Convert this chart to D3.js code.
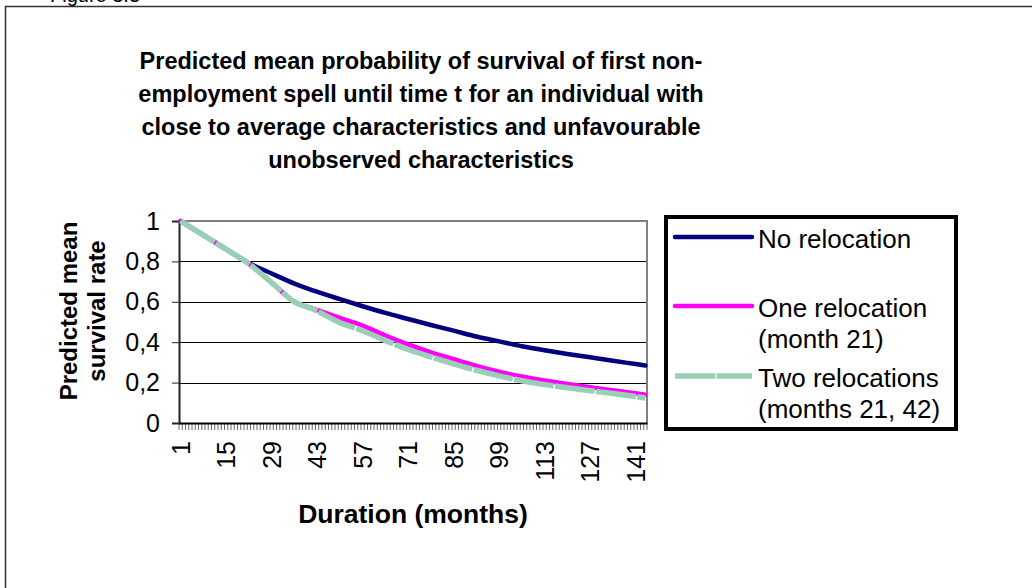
<!DOCTYPE html>
<html>
<head>
<meta charset="utf-8">
<script src="https://cdn.jsdelivr.net/npm/d3@7"></script>
<style>
  body { margin: 0; background: #fff; }
  svg { display: block; font-family: "Liberation Sans", Arial, sans-serif; }
</style>
</head>
<body>
<svg id="chart" width="1032" height="588"></svg>
<script>
// months (category axis runs 1..144)
const nMonths = 144;
const months = [1, 8, 15, 21, 29, 36, 42, 50, 57, 64, 71, 78, 85, 92, 99, 106, 113, 120, 127, 134, 141, 144];
const noRelocation = [1.00, 0.93, 0.86, 0.80, 0.74, 0.69, 0.655, 0.613, 0.578, 0.545, 0.515, 0.485, 0.457, 0.428, 0.404, 0.38, 0.36, 0.342, 0.325, 0.308, 0.292, 0.285];
const oneRelocation = [1.00, 0.93, 0.86, 0.80, 0.695, 0.60, 0.565, 0.52, 0.482, 0.433, 0.389, 0.35, 0.316, 0.283, 0.254, 0.23, 0.21, 0.193, 0.177, 0.162, 0.147, 0.14];
const twoRelocations = [1.00, 0.93, 0.86, 0.80, 0.695, 0.60, 0.562, 0.497, 0.457, 0.408, 0.364, 0.327, 0.293, 0.261, 0.233, 0.209, 0.19, 0.175, 0.16, 0.146, 0.131, 0.124];

const xTickLabels = [1, 15, 29, 43, 57, 71, 85, 99, 113, 127, 141];
const yTicks = [0, 0.2, 0.4, 0.6, 0.8, 1];

const titleLines = [
  "Predicted mean probability of survival of first non-",
  "employment spell until time t for an individual with",
  "close to average characteristics and unfavourable",
  "unobserved characteristics"
];

const series = [
  { name: ["No relocation"], values: noRelocation, color: "#000080", width: 4.5, dash: null },
  { name: ["One relocation", "(month 21)"], values: oneRelocation, color: "#ff00ff", width: 4.5, dash: null },
  { name: ["Two relocations", "(months 21, 42)"], values: twoRelocations, color: "#99cfb5", width: 5.5, dash: "40 1.5" }
];

const svg = d3.select("#chart");
const plot = { left: 179, right: 647, top: 221, bottom: 423 };

const x = d3.scaleBand()
  .domain(d3.range(1, nMonths + 1))
  .range([plot.left, plot.right])
  .padding(0);
const y = d3.scaleLinear().domain([0, 1]).range([plot.bottom, plot.top]);

// outer frame (only top and left visible)
svg.append("path")
  .attr("d", "M5.5,588 V6.5 H1032")
  .attr("fill", "none")
  .attr("stroke", "#333")
  .attr("stroke-width", 1.5);

svg.append("text")
  .attr("x", 50).attr("y", 2)
  .attr("font-size", 20)
  .text("Figure 3.3");

// title
svg.append("g").selectAll("text")
  .data(titleLines)
  .join("text")
  .attr("x", 421)
  .attr("y", (d, i) => 69 + i * 33)
  .attr("text-anchor", "middle")
  .attr("font-size", 23.5)
  .attr("font-weight", "bold")
  .text(d => d);

// gridlines
svg.append("g").selectAll("line")
  .data(yTicks.filter(d => d > 0 && d < 1))
  .join("line")
  .attr("x1", plot.left).attr("x2", plot.right)
  .attr("y1", d => Math.round(y(d)) + 0.5).attr("y2", d => Math.round(y(d)) + 0.5)
  .attr("stroke", "#000").attr("stroke-width", 1);

// plot border top/right in grey
svg.append("path")
  .attr("d", `M${plot.left},${plot.top} H${plot.right} V${plot.bottom}`)
  .attr("fill", "none")
  .attr("stroke", "#808080")
  .attr("stroke-width", 2);

// y axis
const yAxis = svg.append("g")
  .attr("transform", `translate(${plot.left},0)`)
  .call(d3.axisLeft(y).tickValues(yTicks).tickSize(7).tickPadding(12)
    .tickFormat(d => d3.format(".1~f")(d).replace(".", ",")));
yAxis.select(".domain").attr("stroke", "#222").attr("stroke-width", 2);
yAxis.selectAll(".tick line").attr("stroke", "#222");
yAxis.selectAll("text")
  .attr("font-size", 25)
  .attr("font-family", "Liberation Sans, Arial, sans-serif")
  .attr("fill", "#000");

// x axis: tick marks between categories
svg.append("g").selectAll("line")
  .data(d3.range(1, nMonths + 2))
  .join("line")
  .attr("x1", d => (d <= nMonths ? x(d) : plot.right))
  .attr("x2", d => (d <= nMonths ? x(d) : plot.right))
  .attr("y1", plot.bottom).attr("y2", plot.bottom + 7)
  .attr("stroke", "#444").attr("stroke-width", 0.8);

const xAxis = svg.append("g")
  .attr("transform", `translate(0,${plot.bottom})`)
  .call(d3.axisBottom(x).tickValues(xTickLabels).tickSize(0));
xAxis.select(".domain").attr("stroke", "#000").attr("stroke-width", 2);
xAxis.selectAll("text")
  .attr("font-size", 25)
  .attr("font-family", "Liberation Sans, Arial, sans-serif")
  .attr("fill", "#000")
  .attr("transform", "rotate(-90)")
  .attr("text-anchor", "end")
  .attr("x", -18)
  .attr("y", 0)
  .attr("dy", "0.36em");

// axis titles
svg.append("text")
  .attr("x", 413).attr("y", 523)
  .attr("text-anchor", "middle")
  .attr("font-size", 26.5).attr("font-weight", "bold")
  .text("Duration (months)");

svg.append("g")
  .attr("transform", "translate(0,311) rotate(-90)")
  .selectAll("text")
  .data(["Predicted mean", "survival rate"])
  .join("text")
  .attr("x", 0)
  .attr("y", (d, i) => 77 + i * 28)
  .attr("text-anchor", "middle")
  .attr("font-size", 24).attr("font-weight", "bold")
  .text(d => d);

// lines
const line = d3.line()
  .x((d, i) => x(months[i]) + x.bandwidth() / 2)
  .y(d => y(d))
  .curve(d3.curveMonotoneX);

svg.append("g").selectAll("path")
  .data(series)
  .join("path")
  .attr("d", d => line(d.values))
  .attr("fill", "none")
  .attr("stroke", d => d.color)
  .attr("stroke-width", d => d.width)
  .attr("stroke-dasharray", d => d.dash)
  .attr("stroke-linecap", d => (d.dash ? "butt" : "round"))
  .attr("stroke-linejoin", "round");

// legend
const legend = svg.append("g");
legend.append("rect")
  .attr("x", 666).attr("y", 217)
  .attr("width", 290).attr("height", 212)
  .attr("fill", "#fff")
  .attr("stroke", "#000")
  .attr("stroke-width", 4);

const legendY = [237, 306, 376];
series.forEach((s, i) => {
  legend.append("line")
    .attr("x1", 675).attr("x2", 752)
    .attr("y1", legendY[i]).attr("y2", legendY[i])
    .attr("stroke", s.color)
    .attr("stroke-width", s.width)
    .attr("stroke-dasharray", s.dash)
    .attr("stroke-linecap", s.dash ? "butt" : "round");
  legend.selectAll(null)
    .data(s.name)
    .join("text")
    .attr("x", 758)
    .attr("y", (d, j) => legendY[i] + 11 + j * 31)
    .attr("font-size", 26)
    .text(d => d);
});
</script>
</body>
</html>
